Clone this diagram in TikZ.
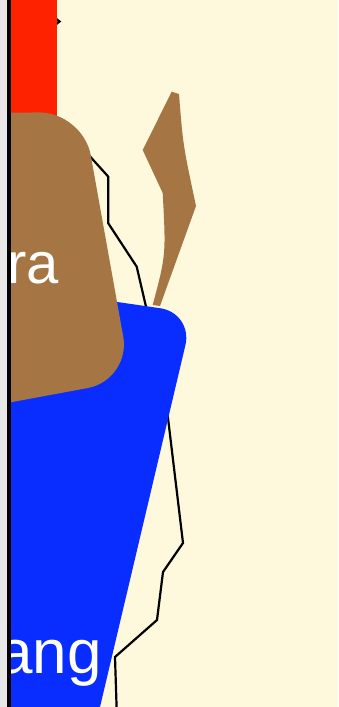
\documentclass[tikz,border=0pt]{standalone}
\usepackage{fontspec}
\usepackage{xcolor}
\usepackage{tikz}
\newfontfamily\labelfont{Liberation Sans}
\definecolor{mapcream}{RGB}{254,249,220}
\definecolor{mapred}{RGB}{255,34,0}
\definecolor{mapbrown}{RGB}{165,117,68}
\definecolor{mapblue}{RGB}{10,45,255}
\definecolor{edgegrey}{RGB}{232,232,232}

\begin{document}
\begin{tikzpicture}[
    x=1pt, y=-1pt,
    region/.style={draw=none},
    border/.style={draw=black, line width=2.2pt, line join=miter},
    placelabel/.style={text=white, inner sep=0pt, font=\labelfont\fontsize{58}{58}\selectfont}
]
\useasboundingbox (0,0) rectangle (338,707);
\clip (0,0) rectangle (338,707);
\fill[mapcream] (0,0) rectangle (338,707);

% borders, mostly hidden under the land
\draw[border] (50,14) -- (59.5,21.5) -- (50,29);
\draw[border] (80,145) -- (91.7,158.3) -- (108.3,176.7) -- (108.3,223.3) -- (136.7,266.7) -- (146,306.7)
    -- (160,365) -- (168,418) -- (183,543) -- (163,572) -- (157,620) -- (115,657) -- (117,720);

% red strip
\fill[region, mapred] (-20,-10) rectangle (57,130);

% blue land
\fill[region, mapblue] (-20,282) [rounded corners=33pt] -- (193,313) [sharp corners] -- (87.5,760) -- (-20,760) -- cycle;

% brown land
\fill[region, mapbrown] (-20,113) -- (-20,113) [rounded corners=44pt] -- (83,112) -- (131,380) [sharp corners] -- (-20,408) -- cycle;
\fill[region, mapbrown] (171.7,91.7) -- (179,94) .. controls (183,145) .. (196,206) -- (160,306) -- (152.7,305)
    .. controls (166,255) .. (162.7,193) -- (142.7,150) -- cycle;

\node[placelabel, anchor=base east] (ra) at (59,283) {ra};
\node[placelabel, anchor=base east, font=\labelfont\fontsize{62}{62}\selectfont] (ang) at (102,673) {ang};

% left frame edge
\fill[edgegrey] (0,0) rectangle (7,707);
\fill[black] (7,0) rectangle (11,707);
\end{tikzpicture}
\end{document}
